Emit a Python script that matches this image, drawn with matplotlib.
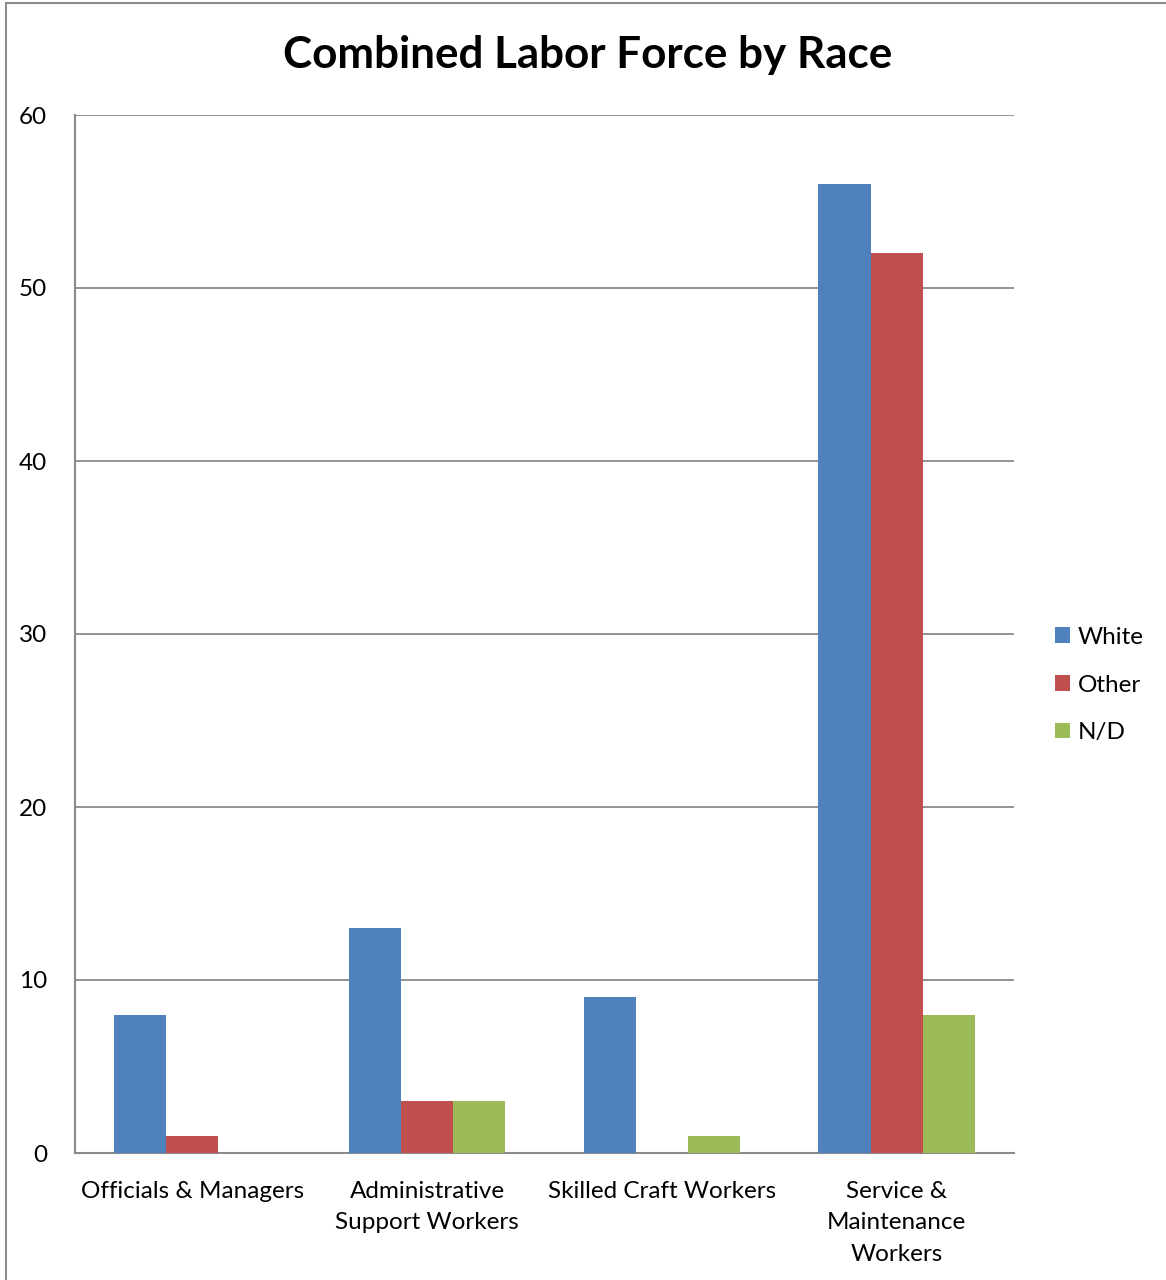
import matplotlib
matplotlib.use("Agg")
import matplotlib.pyplot as plt
import numpy as np
from matplotlib.patches import Rectangle

categories = ["Officials & Managers", "Administrative\nSupport Workers",
              "Skilled Craft Workers", "Service &\nMaintenance\nWorkers"]
series_names = ["White", "Other", "N/D"]
white = [8, 13, 9, 56]
other = [1, 3, 0, 52]
nd = [0, 3, 1, 8]
colors = ["#4F81BD", "#C0504D", "#9BBB59"]
yticks = [0, 10, 20, 30, 40, 50, 60]

plt.rcParams["font.family"] = ["Lato", "DejaVu Sans"]

W, H = 1166, 1280
fig = plt.figure(figsize=(W / 100, H / 100), dpi=100)

# chart frame (extends past right and bottom edges)
fig.patches.append(Rectangle((6 / W, -0.05), 1.2, 1 - 3 / H + 0.05,
                             transform=fig.transFigure, fill=False,
                             edgecolor="#8c8c8c", linewidth=1.5))

ax = fig.add_axes([75 / W, (H - 1153) / H, 939 / W, 1038 / H])

x = np.arange(len(categories))
bw = 1 / (3 + 1.5)
for i, (vals, name) in enumerate(zip([white, other, nd], series_names)):
    ax.bar(x + (i - 1) * bw, vals, width=bw, color=colors[i], label=name,
           zorder=3, linewidth=0)

ax.set_xlim(-0.5, len(categories) - 0.5)
ax.set_ylim(0, 60)
ax.set_yticks(yticks)
ax.set_xticks(x)
ax.set_xticklabels(categories, fontsize=17.5, linespacing=1.63)
ax.tick_params(axis="y", length=0, labelsize=17.5, colors="black", pad=20)
ax.tick_params(axis="x", length=0, colors="black", pad=20)
ax.grid(axis="y", color="#8a8a8a", linewidth=1.3, zorder=0)
for s in ["top", "right"]:
    ax.spines[s].set_visible(False)
for s in ["left", "bottom"]:
    ax.spines[s].set_color("#8a8a8a")
    ax.spines[s].set_linewidth(1.5)

fig.text(588 / W, 1 - 55 / H, "Combined Labor Force by Race", ha="center",
         va="center", fontsize=31.7, fontweight="bold")

ax.legend(loc="center left", bbox_to_anchor=((1055 - 75) / 939, (1153 - 685) / 1038),
          frameon=False, fontsize=17.5, handlelength=0.6, handleheight=0.6,
          handletextpad=0.35, labelspacing=1.1, borderaxespad=0, borderpad=0)

fig.savefig("out.png", dpi=100, facecolor="white")
